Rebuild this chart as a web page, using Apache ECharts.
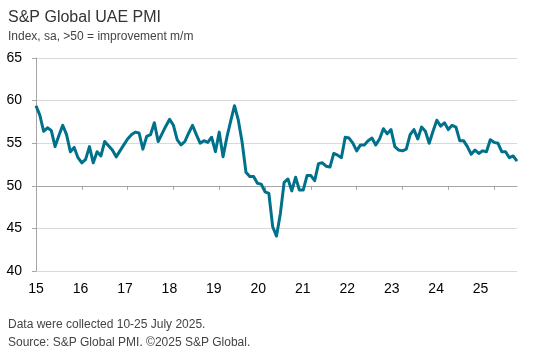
<!DOCTYPE html>
<html>
<head>
<meta charset="utf-8">
<script src="https://cdn.jsdelivr.net/npm/echarts@6/dist/echarts.min.js"></script>
<style>
	html, body { margin: 0; padding: 0; background: #fff; }
	#chart { width: 535px; height: 352px; }
</style>
</head>
<body>
<div id="chart"></div>
<script>
	// monthly headline PMI
	var pmi2015 = [59.4, 58.3, 56.4, 56.8, 56.5, 54.6, 55.9, 57.1, 56.0, 54.0, 54.5, 53.3];
	var pmi2016 = [52.7, 53.1, 54.6, 52.7, 54.0, 53.5, 55.2, 54.7, 54.2, 53.4, 54.1, 54.8];
	var pmi2017 = [55.5, 56.0, 56.3, 56.2, 54.3, 55.8, 56.0, 57.4, 55.2, 56.1, 57.0, 57.8];
	var pmi2018 = [57.1, 55.4, 54.8, 55.2, 56.2, 57.1, 56.0, 55.0, 55.3, 55.1, 55.7, 54.0];
	var pmi2019 = [56.3, 53.4, 55.7, 57.6, 59.4, 57.7, 55.1, 51.6, 51.1, 51.1, 50.3, 50.2];
	var pmi2020 = [49.3, 49.1, 45.2, 44.1, 46.7, 50.4, 50.8, 49.4, 51.0, 49.5, 49.5, 51.2];
	var pmi2021 = [51.2, 50.6, 52.6, 52.7, 52.3, 52.2, 53.8, 53.6, 53.3, 55.7, 55.6, 55.0];
	var pmi2022 = [54.1, 54.8, 54.8, 55.3, 55.6, 54.8, 55.5, 56.7, 56.1, 56.6, 54.6, 54.2];
	var pmi2023 = [54.1, 54.3, 56.0, 56.6, 55.5, 56.9, 56.4, 55.0, 56.4, 57.7, 57.0, 57.4];
	var pmi2024 = [56.6, 57.1, 56.9, 55.3, 55.3, 54.6, 53.7, 54.2, 53.8, 54.1, 54.0, 55.4];
	var pmi2025 = [55.1, 55.0, 54.0, 54.0, 53.3, 53.5, 52.9];

	var years = [2015, 2016, 2017, 2018, 2019, 2020, 2021, 2022, 2023, 2024, 2025];
	var yearLabels = ['15', '16', '17', '18', '19', '20', '21', '22', '23', '24', '25'];

	var pmi = [].concat(pmi2015, pmi2016, pmi2017, pmi2018, pmi2019, pmi2020,
		pmi2021, pmi2022, pmi2023, pmi2024, pmi2025);

	var months = [];
	for (var i = 0; i < pmi.length; i++) {
		var yr = years[0] + Math.floor(i / 12);
		var mo = (i % 12) + 1;
		months.push(yr + '-' + (mo < 10 ? '0' + mo : mo));
	}

	var font = "'Liberation Sans', Arial, sans-serif";
	var gray = '#a6a6a6';

	var myChart = echarts.init(document.getElementById('chart'));
	var option = {
		animation: false,
		title: [{
				text: 'S&P Global UAE PMI',
				left: 3,
				top: 5,
				textStyle: { fontSize: 16, fontWeight: 'normal', color: '#333', fontFamily: font }
			},
			{
				text: 'Index, sa, >50 = improvement m/m',
				left: 3,
				top: 26,
				textStyle: { fontSize: 12, fontWeight: 'normal', color: '#444', fontFamily: font }
			},
			{
				text: 'Data were collected 10-25 July 2025.',
				left: 3,
				top: 314,
				textStyle: { fontSize: 12, fontWeight: 'normal', color: '#444', fontFamily: font }
			},
			{
				text: 'Source: S&P Global PMI. ©2025 S&P Global.',
				left: 3,
				top: 332,
				textStyle: { fontSize: 12, fontWeight: 'normal', color: '#444', fontFamily: font }
			}
		],
		grid: { left: 36, right: 18, top: 58, bottom: 81 },
		xAxis: [{
				// year labels along the bottom
				type: 'value',
				min: years[0],
				max: years[0] + 481 / 44.46,
				interval: 1,
				axisLine: { show: false },
				axisTick: { show: false },
				splitLine: { show: false },
				axisLabel: {
					margin: 11,
					fontSize: 14,
					color: '#000',
					fontFamily: font,
					showMaxLabel: false,
					formatter: function (v) {
						var k = v - years[0];
						return Number.isInteger(k) && yearLabels[k] ? yearLabels[k] : '';
					}
				}
			},
			{
				// month axis, drawn on the 50 line
				type: 'category',
				data: months,
				boundaryGap: false,
				position: 'bottom',
				offset: -85.2,
				axisLine: { lineStyle: { color: gray, width: 1 } },
				axisTick: {
					length: 4,
					lineStyle: { color: gray },
					interval: function (idx) { return idx % 12 === 0; }
				},
				axisLabel: { show: false },
				splitLine: { show: false }
			}
		],
		yAxis: {
			type: 'value',
			min: 40,
			max: 65,
			interval: 5,
			axisLine: { show: true, lineStyle: { color: gray } },
			axisTick: { show: true, length: 4, lineStyle: { color: gray } },
			axisLabel: { margin: 14, fontSize: 14, color: '#000', fontFamily: font },
			splitLine: { lineStyle: { color: '#d9d9d9', width: 1 } }
		},
		series: [{
			name: 'UAE PMI',
			type: 'line',
			xAxisIndex: 1,
			data: pmi,
			showSymbol: false,
			symbol: 'none',
			lineStyle: { color: '#00718b', width: 3, join: 'round' },
			itemStyle: { color: '#00718b' }
		}]
	};
	myChart.setOption(option);
</script>
</body>
</html>
